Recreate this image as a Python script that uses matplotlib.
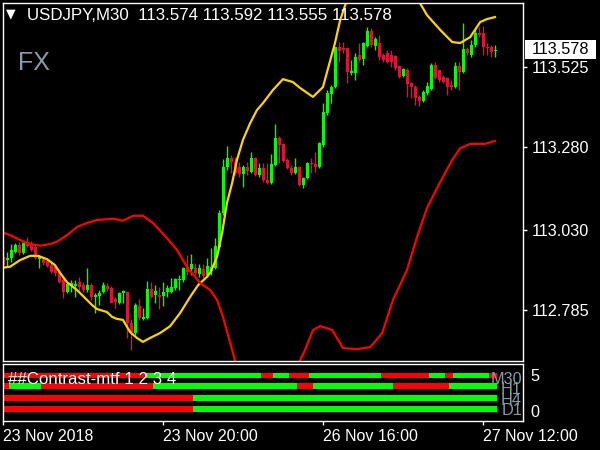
import matplotlib
matplotlib.use("Agg")
import matplotlib.pyplot as plt
import matplotlib.transforms as mtransforms
from matplotlib.patches import Rectangle
import numpy as np

plt.rcParams['font.family'] = ['Liberation Sans', 'DejaVu Sans']

# USDJPY M30 candles
opens = [112.946, 112.937, 112.943, 112.962, 112.983, 112.959, 112.989, 112.986, 112.977, 112.940,
         112.940, 112.934, 112.922, 112.916, 112.901, 112.876, 112.840, 112.858, 112.858, 112.870,
         112.861, 112.846, 112.861, 112.825, 112.828, 112.840, 112.858, 112.852, 112.818, 112.806,
         112.837, 112.840, 112.746, 112.715, 112.797, 112.758, 112.761, 112.849, 112.831, 112.831,
         112.828, 112.840, 112.840, 112.852, 112.876, 112.876, 112.916, 112.910, 112.913, 112.895,
         112.910, 112.892, 112.904, 112.913, 112.977, 113.080, 113.220, 113.248, 113.236, 113.220,
         113.199, 113.220, 113.205, 113.248, 113.196, 113.217, 113.181, 113.172, 113.227, 113.309,
         113.291, 113.242, 113.217, 113.202, 113.220, 113.166, 113.187, 113.233, 113.230, 113.220,
         113.287, 113.385, 113.443, 113.464, 113.586, 113.583, 113.583, 113.507, 113.507, 113.561,
         113.549, 113.589, 113.635, 113.589, 113.598, 113.561, 113.568, 113.561, 113.558, 113.528,
         113.498, 113.516, 113.476, 113.464, 113.434, 113.421, 113.446, 113.458, 113.531, 113.516,
         113.495, 113.492, 113.470, 113.464, 113.528, 113.510, 113.580, 113.561, 113.592, 113.628,
         113.628, 113.586, 113.586, 113.574]
highs = [112.959, 112.962, 112.986, 112.989, 112.992, 112.992, 113.007, 112.995, 112.983, 112.953,
         112.946, 112.943, 112.928, 112.922, 112.907, 112.882, 112.870, 112.876, 112.876, 112.886,
         112.870, 112.913, 112.867, 112.837, 112.846, 112.870, 112.867, 112.858, 112.825, 112.840,
         112.846, 112.843, 112.758, 112.806, 112.818, 112.791, 112.873, 112.870, 112.861, 112.855,
         112.870, 112.861, 112.882, 112.882, 112.892, 112.916, 112.953, 112.956, 112.928, 112.925,
         112.925, 112.943, 112.974, 113.004, 113.090, 113.245, 113.284, 113.257, 113.251, 113.236,
         113.227, 113.236, 113.266, 113.251, 113.233, 113.233, 113.233, 113.260, 113.351, 113.315,
         113.294, 113.248, 113.227, 113.248, 113.224, 113.190, 113.236, 113.248, 113.266, 113.297,
         113.415, 113.455, 113.470, 113.586, 113.601, 113.601, 113.586, 113.546, 113.568, 113.598,
         113.601, 113.647, 113.644, 113.616, 113.622, 113.568, 113.577, 113.577, 113.561, 113.531,
         113.522, 113.522, 113.479, 113.470, 113.440, 113.455, 113.479, 113.537, 113.540, 113.516,
         113.501, 113.495, 113.485, 113.540, 113.540, 113.659, 113.586, 113.607, 113.644, 113.647,
         113.650, 113.598, 113.592, 113.592]
lows = [112.916, 112.916, 112.931, 112.959, 112.953, 112.956, 112.977, 112.965, 112.940, 112.913,
        112.922, 112.916, 112.898, 112.889, 112.867, 112.822, 112.837, 112.840, 112.825, 112.846,
        112.840, 112.840, 112.816, 112.776, 112.800, 112.837, 112.843, 112.806, 112.791, 112.803,
        112.806, 112.700, 112.663, 112.709, 112.755, 112.755, 112.758, 112.822, 112.806, 112.788,
        112.797, 112.825, 112.837, 112.846, 112.846, 112.870, 112.892, 112.892, 112.892, 112.886,
        112.882, 112.886, 112.892, 112.910, 112.974, 113.074, 113.211, 113.202, 113.196, 113.190,
        113.160, 113.196, 113.202, 113.193, 113.190, 113.175, 113.169, 113.169, 113.224, 113.233,
        113.236, 113.214, 113.196, 113.199, 113.163, 113.157, 113.184, 113.202, 113.205, 113.217,
        113.281, 113.379, 113.415, 113.461, 113.540, 113.568, 113.476, 113.501, 113.485, 113.540,
        113.531, 113.586, 113.586, 113.577, 113.546, 113.540, 113.537, 113.525, 113.516, 113.492,
        113.495, 113.434, 113.431, 113.409, 113.406, 113.418, 113.440, 113.455, 113.488, 113.479,
        113.476, 113.440, 113.455, 113.461, 113.455, 113.507, 113.561, 113.555, 113.586, 113.616,
        113.561, 113.561, 113.555, 113.555]
closes = [112.922, 112.943, 112.968, 112.983, 112.959, 112.989, 112.980, 112.968, 112.943, 112.946,
          112.928, 112.919, 112.901, 112.898, 112.870, 112.840, 112.864, 112.867, 112.864, 112.855,
          112.846, 112.861, 112.825, 112.831, 112.837, 112.861, 112.849, 112.806, 112.809, 112.837,
          112.843, 112.746, 112.718, 112.800, 112.761, 112.764, 112.849, 112.825, 112.843, 112.825,
          112.840, 112.852, 112.855, 112.879, 112.879, 112.913, 112.901, 112.925, 112.898, 112.913,
          112.889, 112.919, 112.916, 112.980, 113.080, 113.220, 113.248, 113.236, 113.202, 113.199,
          113.220, 113.208, 113.248, 113.196, 113.217, 113.181, 113.172, 113.230, 113.309, 113.287,
          113.239, 113.217, 113.202, 113.220, 113.166, 113.187, 113.233, 113.230, 113.220, 113.294,
          113.388, 113.446, 113.464, 113.586, 113.574, 113.577, 113.510, 113.513, 113.555, 113.546,
          113.598, 113.635, 113.592, 113.610, 113.555, 113.546, 113.540, 113.540, 113.522, 113.495,
          113.519, 113.473, 113.464, 113.431, 113.421, 113.449, 113.467, 113.531, 113.492, 113.485,
          113.479, 113.464, 113.464, 113.528, 113.510, 113.580, 113.568, 113.592, 113.628, 113.622,
          113.586, 113.583, 113.571, 113.578]

# band lines, read at a few bar positions
gold_bar = [0, 1.7, 4.2, 6.7, 8.7, 10.9, 12.9, 14.2, 15.9, 18.4, 20.4, 22.2, 23.4, 25.9, 27.2, 28.4,
            29.9, 31.7, 33.4, 34.9, 36.7, 39.2, 41.7, 44.2, 46.7, 48.7, 50.9, 51.7, 53.4, 54.7, 55.9,
            57.2, 58.4, 59.9, 61.7, 63.4, 64.9, 67.4, 69.9, 72.4, 74.2, 77.4, 79.9, 82.9, 84.2, 85.9,
            89, 94, 99, 101.7, 103.7, 105.9, 109.2, 112.2, 114.2, 116.7, 119.2, 120.9, 122.9]
gold_val = [112.914, 112.917, 112.937, 112.950, 112.950, 112.940, 112.922, 112.898, 112.870, 112.846,
            112.822, 112.800, 112.788, 112.779, 112.764, 112.758, 112.755, 112.718, 112.700, 112.688,
            112.700, 112.715, 112.736, 112.776, 112.825, 112.861, 112.886, 112.898, 112.946, 113.020,
            113.111, 113.172, 113.242, 113.303, 113.354, 113.394, 113.415, 113.455, 113.488, 113.479,
            113.461, 113.434, 113.464, 113.598, 113.668, 113.729, 113.800, 113.850, 113.830, 113.770,
            113.729, 113.683, 113.638, 113.601, 113.598, 113.616, 113.662, 113.671, 113.677]
red_bar = [0, 1.7, 4.2, 6.7, 9.2, 11.7, 13.4, 15.9, 18.4, 20.9, 23.4, 27.4, 29.9, 32.4, 34.9, 37.4,
           40.9, 43.4, 45.9, 49.2, 51.7, 53.4, 54.9, 57.2, 59.2, 62.9, 66.7, 70.4, 74.2, 75.4, 77.4,
           79.2, 82.2, 84.9, 88.4, 91.7, 94.7, 97.4, 100.9, 103.4, 105.9, 109.2, 112.2, 114.2, 116.7,
           120.4, 122.9]
red_val = [113.020, 113.013, 112.998, 112.986, 112.981, 112.986, 112.993, 113.013, 113.038, 113.050,
           113.059, 113.063, 113.057, 113.072, 113.072, 113.050, 113.004, 112.968, 112.916, 112.867,
           112.846, 112.816, 112.764, 112.663, 112.572, 112.481, 112.450, 112.481, 112.633, 112.663,
           112.724, 112.736, 112.724, 112.669, 112.666, 112.672, 112.715, 112.816, 112.907, 113.007,
           113.096, 113.175, 113.242, 113.278, 113.291, 113.291, 113.300]

price_ticks = [112.785, 113.030, 113.280, 113.525]
last_price = 113.578
symbol = "USDJPY,M30"

# Contrast-mtf signal rows: (first bar, state)
tf_names = ["M30", "H1", "H4", "D1"]
tf_runs = [
    [(0, 'dn'), (36, 'up'), (65, 'dn'), (68, 'up'), (72, 'dn'), (77, 'up'), (95, 'dn'),
     (107, 'up'), (111, 'dn'), (113, 'up'), (122, 'dn')],
    [(0, 'dn'), (2, 'up'), (10, 'dn'), (38, 'up'), (74, 'dn'), (78, 'up'), (98, 'dn'), (112, 'up')],
    [(0, 'dn'), (48, 'up')],
    [(0, 'dn'), (48, 'up')],
]
time_ticks = [0, 40, 80, 120]
time_labels = ["23 Nov 2018", "23 Nov 20:00", "26 Nov 16:00", "27 Nov 12:00"]

W, H = 600, 450
fig = plt.figure(figsize=(6, 4.5), dpi=100, facecolor='black')

def rect(x0, y0, x1, y1):
    return [x0 / W, 1 - y1 / H, (x1 - x0) / W, (y1 - y0) / H]

def fp(x, y):
    return x / W, 1 - y / H

n = len(closes)
idx = np.arange(n)
o = np.array(opens); c = np.array(closes)
up = c >= o

ax = fig.add_axes(rect(2.5, 2.5, 523, 361))
ax.set_facecolor('black')
ax.vlines(idx[up], np.array(lows)[up], np.array(highs)[up], color='#00FF00', lw=1)
ax.vlines(idx[~up], np.array(lows)[~up], np.array(highs)[~up], color='#DC143C', lw=1)
body = np.maximum(np.abs(c - o), 0.003)
ax.bar(idx[up], body[up], bottom=o[up], width=0.75, color='#00FF00', lw=0)
ax.bar(idx[~up], body[~up], bottom=c[~up], width=0.75, color='#DC143C', lw=0)
ax.plot(gold_bar, gold_val, color='#FFD200', lw=1.6)
ax.plot(red_bar, red_val, color='#FF0000', lw=1.6)

ax.set_xlim(-0.2, 129.9)
ax.set_ylim(112.6298, 113.7214)
ax.yaxis.tick_right()
ax.set_yticks(price_ticks)
ax.set_yticklabels(["%.3f" % v for v in price_ticks])
ax.tick_params(axis='y', colors='white', labelsize=11.7, length=3, pad=3, width=1)
ax.set_xticks([])
for s in ax.spines.values():
    s.set_color('white'); s.set_linewidth(1)

# last price box on the price scale
blend = mtransforms.blended_transform_factory(fig.transFigure, ax.transData)
box_h = 19 * (113.7214 - 112.6298) / 358.5
ax.add_patch(Rectangle((525 / W, last_price - box_h / 2), 71 / W, box_h, transform=blend,
                       facecolor='white', edgecolor='none', clip_on=False))
ax.text(560.5 / W, last_price, "%.3f" % last_price, transform=blend, ha='center', va='center',
        fontsize=11.7, color='black', clip_on=False)

# sub window
ax2 = fig.add_axes(rect(2.5, 363.7, 523, 421))
ax2.set_facecolor('black')
row_y = [4.93, 3.47, 1.81, 0.28]
for runs, yy in zip(tf_runs, row_y):
    for k, (start, state) in enumerate(runs):
        end = runs[k + 1][0] if k + 1 < len(runs) else n
        ax2.barh(yy, end - start, left=start - 0.5, height=0.83,
                 color='#00FF00' if state == 'up' else '#FF0000', lw=0)
ax2.set_xlim(-0.2, 129.9)
ax2.set_ylim(-1.39, 6.57)
ax2.yaxis.tick_right()
ax2.set_yticks([0, 5])
ax2.set_yticklabels(["0", "5"])
ax2.tick_params(axis='y', colors='white', labelsize=11.7, length=0, pad=5)
ax2.set_xticks(time_ticks)
ax2.set_xticklabels(time_labels)
ax2.tick_params(axis='x', colors='white', labelsize=11.5, length=3, pad=3, width=1)
for lbl in ax2.get_xticklabels():
    lbl.set_ha('left')
for s in ax2.spines.values():
    s.set_color('white'); s.set_linewidth(1)

fig.text(*fp(8, 383.5), "##Contrast-mtf 1 2 3 4", color='white', fontsize=12.2, va='baseline')
for name, yb in zip(tf_names, [384, 394, 405, 415]):
    fig.text(*fp(522, yb), name, color='#8C9AA6', fontsize=11.7, ha='right', va='baseline')

# header
fig.text(*fp(6, 17.5), "\u25bc", color='white', fontsize=9, family='DejaVu Sans', va='baseline')
fig.text(*fp(27, 20.5), "%s  %.3f %.3f %.3f %.3f" % (symbol, opens[-1], highs[-1], lows[-1], closes[-1]),
         color='white', fontsize=12.2, va='baseline')
fig.text(*fp(18, 70), "FX", color='#8C9AA6', fontsize=18, va='baseline')

fig.savefig("out.png", dpi=100, facecolor='black')
